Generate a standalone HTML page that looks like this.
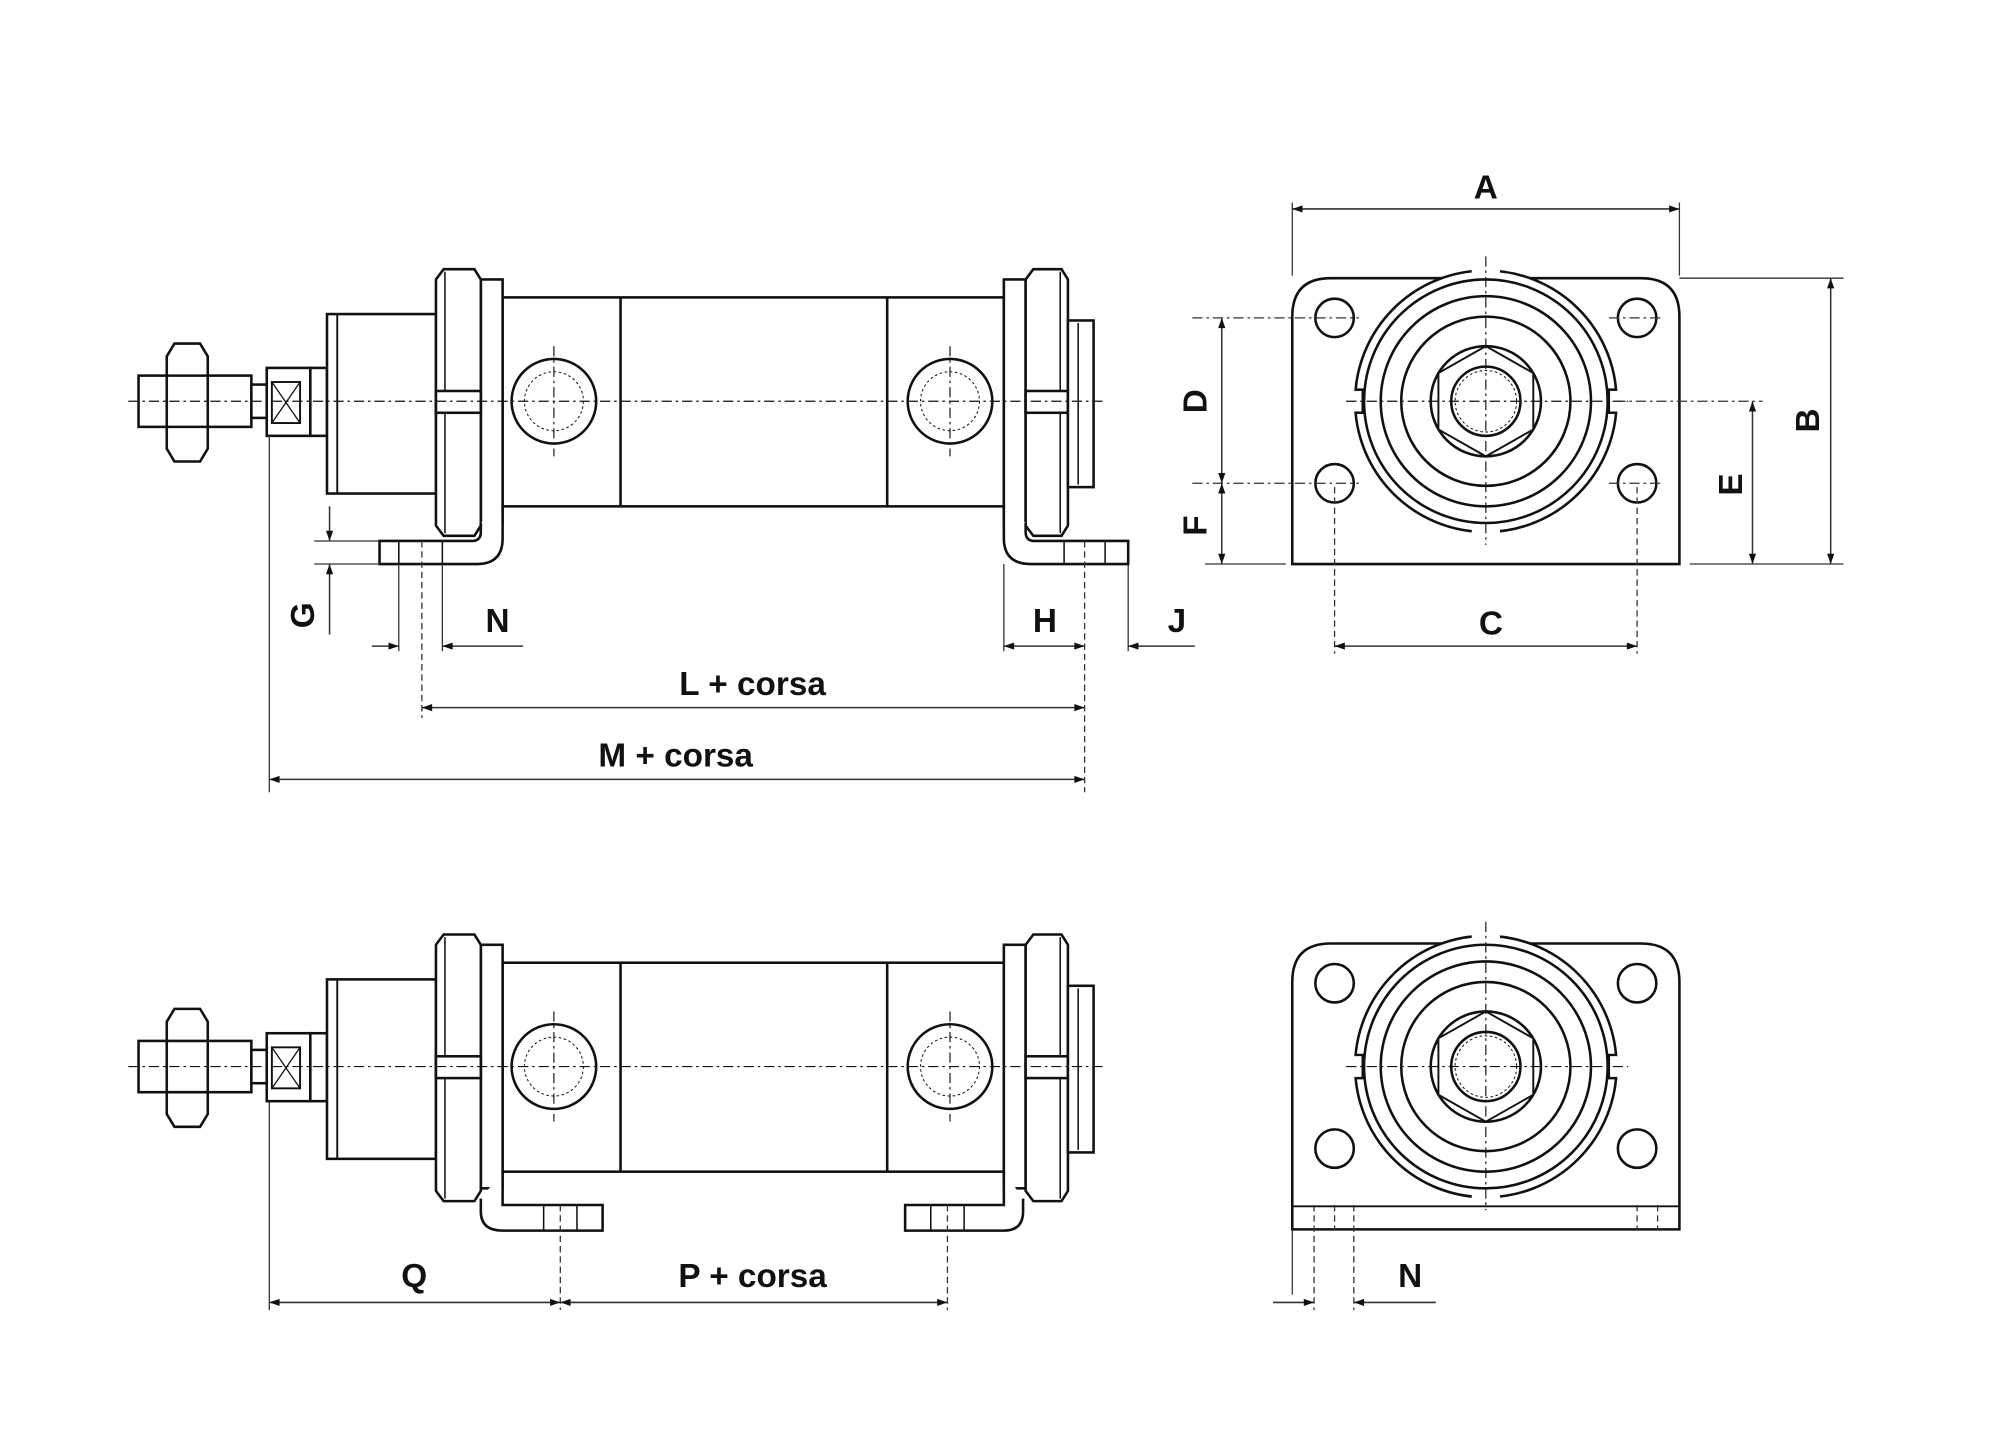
<!DOCTYPE html>
<html><head><meta charset="utf-8"><style>
html,body{margin:0;padding:0;background:#fff;width:2000px;height:1446px;overflow:hidden}
svg{display:block}
text{font-family:"Liberation Sans",Arial,sans-serif;font-weight:bold;font-size:26px;fill:#111}
</style></head><body>
<svg width="2000" height="1446" viewBox="0 0 1560 1128" xmlns="http://www.w3.org/2000/svg">
<defs>
<marker id="ar" viewBox="0 0 10 10" refX="10" refY="5" markerWidth="14" markerHeight="8" markerUnits="userSpaceOnUse" orient="auto-start-reverse"><path d="M0,1.5 L10,5 L0,8.5 z" fill="#111"/></marker>
<g id="cyl" fill="#fff" stroke="#111" stroke-width="2">
  <rect x="108" y="293" width="88" height="40"/>
  <path d="M136,268 L156,268 L162,278 L162,350 L156,360 L136,360 L130,350 L130,278 Z"/>
  <line x1="130" y1="293" x2="162" y2="293"/><line x1="130" y1="333" x2="162" y2="333"/>
  <rect x="196" y="300" width="12" height="26"/>
  <rect x="208" y="287" width="34" height="53"/>
  <rect x="212" y="298" width="22" height="32" stroke-width="1.5"/>
  <path d="M212,298 L234,330 M234,298 L212,330" stroke-width="1"/>
  <rect x="242" y="287" width="13" height="53"/>
  <rect x="255" y="245" width="85" height="140"/>
  <line x1="263" y1="245" x2="263" y2="385" stroke-width="1.5"/>
  <rect x="392" y="232" width="391" height="163"/>
  <line x1="484" y1="232" x2="484" y2="395"/><line x1="692" y1="232" x2="692" y2="395"/>
  <rect x="375" y="218" width="17" height="190"/>
  <path d="M346,210 L370,210 L375,218 L375,410 L370,418 L346,418 L340,410 L340,218 Z"/>
  <line x1="347" y1="212" x2="347" y2="416" stroke-width="1.2"/>
  <rect x="340" y="305" width="35" height="17"/>
  <rect x="783" y="218" width="17" height="190"/>
  <path d="M806,210 L828,210 L833,218 L833,410 L828,418 L806,418 L800,410 L800,218 Z"/>
  <line x1="827" y1="212" x2="827" y2="416" stroke-width="1.2"/>
  <rect x="800" y="305" width="33" height="17"/>
  <rect x="833" y="250" width="20" height="130"/>
  <line x1="841" y1="252" x2="841" y2="378" stroke-width="1.2"/>
  <circle cx="432" cy="313" r="33"/><circle cx="432" cy="313" r="21"/>
  <circle cx="432" cy="313" r="23" stroke-width="0.8" stroke-dasharray="2 2"/>
  <circle cx="741" cy="313" r="33"/><circle cx="741" cy="313" r="21"/>
  <circle cx="741" cy="313" r="23" stroke-width="0.8" stroke-dasharray="2 2"/>
  <g stroke-width="0.9" stroke-dasharray="8 3 2 3" fill="none">
    <line x1="100" y1="313" x2="860" y2="313"/>
    <line x1="432" y1="270" x2="432" y2="356"/>
    <line x1="741" y1="270" x2="741" y2="356"/>
  </g>
</g>
<g id="front" fill="#fff" stroke="#111" stroke-width="2">
  <path d="M1038,217 L1280,217 Q1310,217 1310,247 L1310,440 L1008,440 L1008,247 Q1008,217 1038,217 Z"/>
  <circle cx="1041" cy="248" r="15"/><circle cx="1277" cy="248" r="15"/>
  <circle cx="1041" cy="377" r="15"/><circle cx="1277" cy="377" r="15"/>
  <circle cx="1159" cy="313" r="102"/>
  <path d="M1150,211 L1150,219 L1168,219 L1168,211" />
  <path d="M1150,415 L1150,407 L1168,407 L1168,415"/>
  <path d="M1057,304 L1063,304 L1063,322 L1057,322"/>
  <path d="M1261,304 L1255,304 L1255,322 L1261,322"/>
  <rect x="1148" y="208" width="22" height="10" stroke="none"/>
  <rect x="1148" y="408" width="22" height="10" stroke="none"/>
  <rect x="1054" y="305" width="8" height="16" stroke="none"/>
  <rect x="1256" y="305" width="8" height="16" stroke="none"/>
  <circle cx="1159" cy="313" r="95"/>
  <circle cx="1159" cy="313" r="82"/>
  <circle cx="1159" cy="313" r="66"/>
  <circle cx="1159" cy="313" r="43"/>
  <path d="M1159,270 L1196,291 L1196,335 L1159,356 L1122,335 L1122,291 Z" stroke-width="1.5"/>
  <circle cx="1159" cy="313" r="27"/>
  <circle cx="1159" cy="313" r="24" stroke-width="0.8" stroke-dasharray="2 2"/>
  <g stroke-width="0.9" stroke-dasharray="8 3 2 3" fill="none">
    <line x1="1050" y1="313" x2="1270" y2="313"/>
    <line x1="1159" y1="200" x2="1159" y2="425"/>
  </g>
</g>
</defs>

<!-- top side view -->
<use href="#cyl"/>
<g fill="#fff" stroke="#111" stroke-width="2">
  <path d="M375,408 L375,415 Q375,422 368,422 L296,422 L296,440 L372,440 Q392,440 392,420 L392,395"/>
  <path d="M800,408 L800,415 Q800,422 807,422 L880,422 L880,440 L804,440 Q783,440 783,420 L783,395"/>
  <g stroke-width="1.2"><line x1="311" y1="422" x2="311" y2="440"/><line x1="345" y1="422" x2="345" y2="440"/>
  <line x1="830" y1="422" x2="830" y2="440"/><line x1="862" y1="422" x2="862" y2="440"/></g>
</g>
<!-- bottom side view -->
<use href="#cyl" y="519"/>
<g fill="#fff" stroke="#111" stroke-width="2">
  <path d="M375,935 L375,945 Q375,960 392,960 L470,960 L470,940 L392,940 L392,914"/>
  <path d="M798,935 L798,945 Q798,960 783,960 L706,960 L706,940 L783,940 L783,914"/>
  <g stroke-width="1.2"><line x1="424" y1="940" x2="424" y2="960"/><line x1="450" y1="940" x2="450" y2="960"/>
  <line x1="726" y1="940" x2="726" y2="960"/><line x1="752" y1="940" x2="752" y2="960"/></g>
</g>

<!-- front views -->
<use href="#front"/>
<use href="#front" y="519"/>
<g fill="none" stroke="#111" stroke-width="2"><line x1="1008" y1="941" x2="1310" y2="941" stroke-width="1.5"/></g>

<!-- extension lines -->
<g stroke="#333" stroke-width="1" fill="none">
  <line x1="210" y1="340" x2="210" y2="618"/>
  <line x1="1008" y1="158" x2="1008" y2="215"/><line x1="1310" y1="158" x2="1310" y2="215"/>
  <line x1="1310" y1="217" x2="1438" y2="217"/><line x1="1318" y1="440" x2="1438" y2="440"/>
  <line x1="940" y1="440" x2="1003" y2="440"/>
  <line x1="245" y1="422" x2="296" y2="422"/><line x1="245" y1="440" x2="296" y2="440"/>
  <line x1="311" y1="440" x2="311" y2="508"/><line x1="345" y1="440" x2="345" y2="508"/>
  <line x1="783" y1="440" x2="783" y2="508"/><line x1="880" y1="440" x2="880" y2="508"/>
  <line x1="210" y1="860" x2="210" y2="1022"/>
  <line x1="1008" y1="960" x2="1008" y2="1010"/>
</g>
<g stroke="#333" stroke-width="1" fill="none" stroke-dasharray="5 3">
  <line x1="329" y1="422" x2="329" y2="560"/><line x1="846" y1="422" x2="846" y2="618"/>
  <line x1="1041" y1="380" x2="1041" y2="510"/><line x1="1277" y1="380" x2="1277" y2="510"/>
  <line x1="437" y1="940" x2="437" y2="1022"/><line x1="739" y1="940" x2="739" y2="1022"/>
  <line x1="1025" y1="940" x2="1025" y2="1022"/><line x1="1056" y1="940" x2="1056" y2="1022"/>
  <line x1="1041" y1="940" x2="1041" y2="960"/><line x1="1277" y1="940" x2="1277" y2="960"/><line x1="1293" y1="940" x2="1293" y2="960"/>
</g>
<g stroke="#333" stroke-width="1" fill="none" stroke-dasharray="8 3 2 3">
  <line x1="930" y1="248" x2="1060" y2="248"/><line x1="930" y1="377" x2="1060" y2="377"/>
  <line x1="1255" y1="248" x2="1295" y2="248"/><line x1="1255" y1="377" x2="1295" y2="377"/>
  <line x1="1260" y1="313" x2="1375" y2="313"/>
</g>

<!-- dimension lines -->
<g stroke="#333" stroke-width="1.2" fill="none">
  <line x1="1008" y1="163" x2="1310" y2="163" marker-start="url(#ar)" marker-end="url(#ar)"/>
  <line x1="1428" y1="217" x2="1428" y2="440" marker-start="url(#ar)" marker-end="url(#ar)"/>
  <line x1="1367" y1="313" x2="1367" y2="440" marker-start="url(#ar)" marker-end="url(#ar)"/>
  <line x1="953" y1="248" x2="953" y2="377" marker-start="url(#ar)" marker-end="url(#ar)"/>
  <line x1="953" y1="377" x2="953" y2="440" marker-start="url(#ar)" marker-end="url(#ar)"/>
  <line x1="1041" y1="504" x2="1277" y2="504" marker-start="url(#ar)" marker-end="url(#ar)"/>
  <line x1="257" y1="395" x2="257" y2="422" marker-end="url(#ar)"/>
  <line x1="257" y1="495" x2="257" y2="440" marker-end="url(#ar)"/>
  <line x1="290" y1="504" x2="311" y2="504" marker-end="url(#ar)"/>
  <line x1="408" y1="504" x2="345" y2="504" marker-end="url(#ar)"/>
  <line x1="783" y1="504" x2="846" y2="504" marker-start="url(#ar)" marker-end="url(#ar)"/>
  <line x1="932" y1="504" x2="880" y2="504" marker-end="url(#ar)"/>
  <line x1="329" y1="552" x2="846" y2="552" marker-start="url(#ar)" marker-end="url(#ar)"/>
  <line x1="210" y1="608" x2="846" y2="608" marker-start="url(#ar)" marker-end="url(#ar)"/>
  <line x1="210" y1="1016" x2="437" y2="1016" marker-start="url(#ar)" marker-end="url(#ar)"/>
  <line x1="437" y1="1016" x2="739" y2="1016" marker-start="url(#ar)" marker-end="url(#ar)"/>
  <line x1="993" y1="1016" x2="1025" y2="1016" marker-end="url(#ar)"/>
  <line x1="1120" y1="1016" x2="1056" y2="1016" marker-end="url(#ar)"/>
</g>

<!-- labels -->
<g text-anchor="middle">
  <text x="1159" y="155">A</text>
  <text x="1163" y="495">C</text>
  <text x="388" y="493">N</text>
  <text x="815" y="493">H</text>
  <text x="918" y="493">J</text>
  <text x="587" y="542">L + corsa</text>
  <text x="527" y="598">M + corsa</text>
  <text x="323" y="1004">Q</text>
  <text x="587" y="1004">P + corsa</text>
  <text x="1100" y="1004">N</text>
  <text transform="translate(1419,328) rotate(-90)">B</text>
  <text transform="translate(1359,378) rotate(-90)">E</text>
  <text transform="translate(941,313) rotate(-90)">D</text>
  <text transform="translate(941,410) rotate(-90)">F</text>
  <text transform="translate(245,480) rotate(-90)">G</text>
</g>
</svg>
</body></html>
